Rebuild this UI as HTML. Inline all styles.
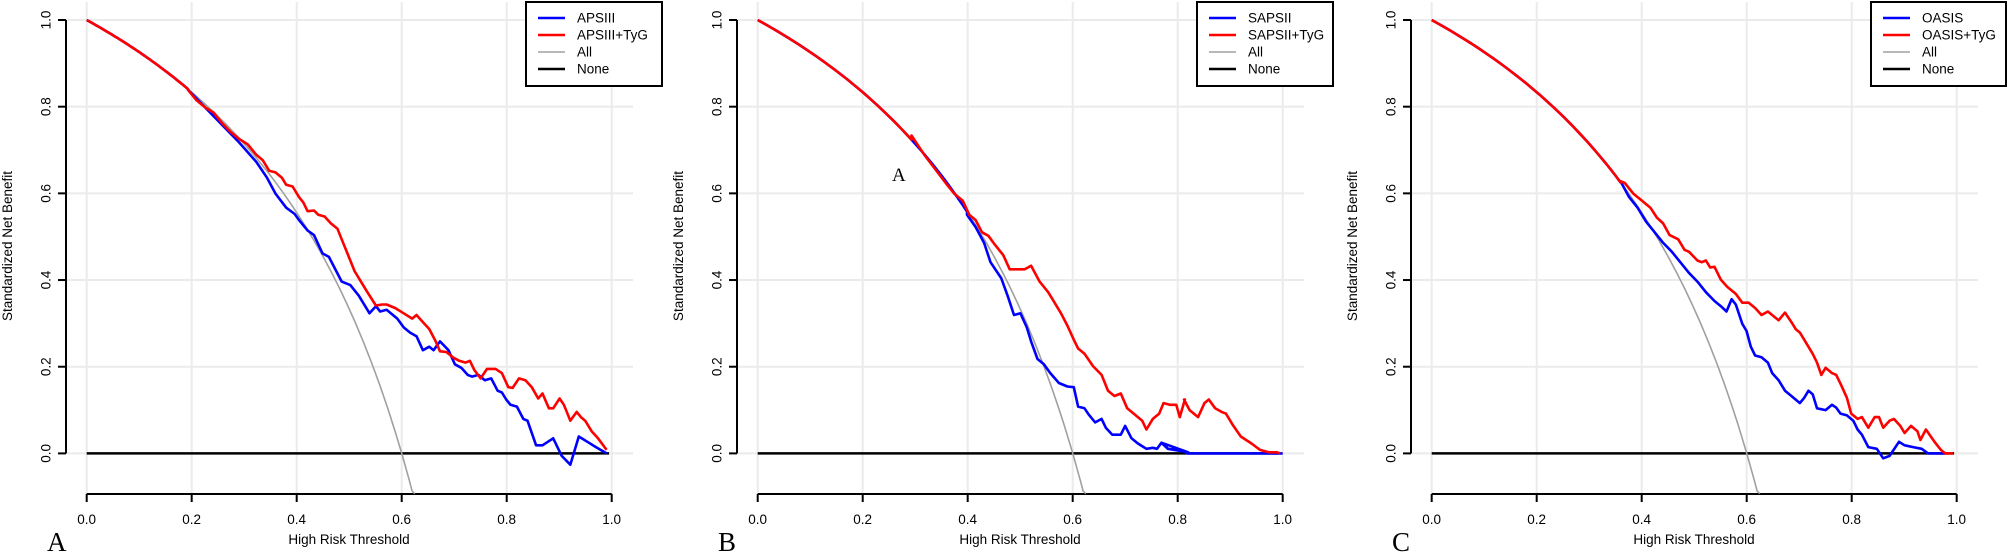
<!DOCTYPE html>
<html><head><meta charset="utf-8">
<style>
html,body{margin:0;padding:0;background:#fff;}
svg{display:block;}
text{font-family:"Liberation Sans",Arial,sans-serif;fill:#000;}
.s{font-family:"Liberation Serif",serif;}
</style></head>
<body>
<svg id="c" width="2009" height="552" xmlns="http://www.w3.org/2000/svg"></svg>
<script>
const NS="http://www.w3.org/2000/svg";
const svg=document.getElementById('c');
function el(n,a,t){const e=document.createElementNS(NS,n);for(const k in a)e.setAttribute(k,a[k]);if(t!==undefined)e.textContent=t;svg.appendChild(e);return e;}
const X0=86.7,XS=525,Y0=453.4,YS=433.4;
function all(t){return 1-(2/3)*t/(1-t);}
const panels=[
 {dx:0,z0:203,letter:'A',names:['APSIII','APSIII+TyG'],
  blue:[[[440,255],[560,405],[600,460],[625,505],[645,550],[670,590],[690,608],[700,625],[720,655],[735,668],[755,720],[770,730],[800,800],[820,810],[840,840],[860,880],[865,890],[880,870],[890,885],[905,880],[930,905],[945,930],[960,945],[975,955],[990,995],[1005,985],[1015,995],[1030,970],[1050,995],[1065,1035],[1080,1045],[1095,1065],[1105,1070],[1120,1065],[1135,1080],[1150,1075],[1165,1110],[1175,1115],[1185,1135],[1195,1150],[1210,1155],[1225,1190],[1235,1195],[1255,1265],[1270,1265],[1295,1245],[1315,1295],[1335,1320],[1355,1240],[1375,1255],[1395,1270],[1420,1288]],203],
  red:[[[440,255],[460,285],[480,305],[500,320],[520,350],[540,375],[560,395],[580,410],[600,440],[615,455],[630,485],[645,490],[660,505],[670,525],[685,530],[700,560],[710,575],[720,600],[735,598],[745,610],[760,615],[775,635],[790,650],[800,680],[810,710],[820,740],[830,770],[845,800],[860,830],[880,868],[895,865],[905,865],[925,875],[945,890],[965,905],[975,895],[990,915],[1005,935],[1020,970],[1030,998],[1045,1000],[1060,1015],[1075,1025],[1090,1030],[1100,1025],[1110,1050],[1125,1075],[1140,1048],[1160,1048],[1175,1060],[1190,1100],[1200,1102],[1215,1075],[1230,1080],[1245,1100],[1260,1132],[1270,1118],[1285,1160],[1295,1160],[1310,1132],[1320,1150],[1335,1195],[1350,1170],[1360,1185],[1370,1195],[1385,1225],[1400,1245],[1420,1278]],203]},
 {dx:671,z0:560,letter:'B',names:['SAPSII','SAPSII+TyG'],
  blue:[[[1050,610],[1070,645],[1090,690],[1105,745],[1130,790],[1145,840],[1160,895],[1175,890],[1190,930],[1200,970],[1215,1020],[1230,1035],[1245,1060],[1265,1088],[1285,1098],[1300,1100],[1310,1155],[1325,1160],[1335,1178],[1350,1200],[1365,1190],[1375,1215],[1390,1235],[1410,1235],[1420,1210],[1435,1245],[1450,1260],[1470,1275],[1485,1272],[1495,1275],[1505,1258],[1520,1275],[1545,1280],[1568,1285]],560,
        [[290,1258],[305,1275],[340,1280],[350,1288],[573,1288]]],
  red:[[[920,385],[950,440],[975,480],[1000,520],[1020,550],[1040,570],[1055,610],[1070,625],[1085,660],[1100,670],[1115,695],[1135,725],[1150,765],[1165,765],[1185,765],[1200,755],[1220,800],[1240,830],[1255,860],[1270,890],[1285,925],[1300,965],[1310,990],[1325,1005],[1345,1040],[1365,1065],[1380,1110],[1395,1125],[1410,1118],[1425,1160],[1445,1180],[1460,1195],[1470,1220],[1485,1190],[1500,1175],[1510,1145],[1525,1150],[1540,1150],[1548,1185],[1560,1135]],560,
       [[342,1135],[355,1165],[375,1185],[390,1145],[400,1135],[415,1160],[430,1170],[440,1175],[455,1205],[475,1240],[500,1260],[520,1278],[540,1285],[560,1285],[567,1288]]]},
 {dx:1345,z0:218,letter:'C',names:['OASIS','OASIS+TyG'],
  blue:[[[660,515],[680,560],[700,590],[720,630],[740,660],[760,690],[780,715],[800,745],[820,775],[840,800],[860,830],[880,855],[895,870],[908,885],[920,850],[930,865],[945,920],[955,940],[965,985],[975,1010],[990,1015],[1005,1030],[1015,1060],[1030,1080],[1045,1110],[1060,1125],[1080,1145],[1090,1130],[1100,1110],[1110,1120],[1120,1160],[1140,1165],[1155,1150],[1165,1158],[1175,1175],[1190,1180],[1205,1195],[1215,1220],[1225,1235],[1240,1270],[1260,1275],[1275,1302],[1290,1295],[1312,1255],[1325,1265],[1345,1270],[1365,1275],[1380,1288],[1420,1288]],218],
  red:[[[660,515],[670,520],[690,550],[710,570],[730,590],[745,618],[760,635],[775,668],[795,680],[810,710],[820,715],[840,740],[850,745],[860,740],[870,760],[880,758],[895,795],[910,815],[930,835],[945,860],[960,860],[975,875],[990,895],[1005,885],[1030,910],[1045,888],[1060,915],[1070,935],[1080,945],[1095,975],[1110,1005],[1120,1030],[1130,1065],[1140,1045],[1155,1060],[1165,1065],[1175,1090],[1190,1130],[1200,1175],[1215,1190],[1225,1185],[1240,1215],[1255,1185],[1265,1185],[1275,1215],[1290,1195],[1300,1190],[1315,1210],[1325,1230],[1340,1210],[1355,1225],[1362,1250],[1375,1220],[1395,1255],[1410,1278],[1420,1288],[1438,1288]],218]}
];
function px(dx,t){return dx+X0+t*XS;}
function py(v){return Y0-v*YS;}
function curvePts(dx,spec){
  const [pts,z0,extra]=spec;
  const out=[];
  const t1=(pts[0][0]-z0)/1229;
  for(let i=0;i<=40;i++){const t=t1*i/40;out.push([px(dx,t),py(all(t))]);}
  pts.forEach(p=>{out.push([px(dx,(p[0]-z0)/1229),py((1288-p[1])/1231)]);});
  if(extra)extra.forEach(p=>{const t=(p[0]-573)/1229+1;out.push([px(dx,t),py((1288-p[1])/1231)]);});
  return out.map(p=>p[0].toFixed(1)+','+p[1].toFixed(1)).join(' ');
}
panels.forEach(P=>{
  const d=P.dx;
  // grid
  for(let i=0;i<=5;i++){const y=py(i*0.2);el('line',{x1:d+66,x2:d+633,y1:y,y2:y,stroke:'#ebebeb','stroke-width':2});}
  for(let i=0;i<=5;i++){const x=px(d,i*0.2);el('line',{x1:x,x2:x,y1:2,y2:494,stroke:'#ebebeb','stroke-width':2});}
  // axes
  el('line',{x1:d+66,x2:d+66,y1:py(1),y2:py(0),stroke:'#000','stroke-width':2});
  for(let i=0;i<=5;i++){const y=py(i*0.2);el('line',{x1:d+58,x2:d+66,y1:y,y2:y,stroke:'#000','stroke-width':2});
    el('text',{x:d+46,y:y,'font-size':13.5,'text-anchor':'middle','dominant-baseline':'central',transform:`rotate(-90 ${d+46} ${y})`},(i*0.2).toFixed(1));}
  el('line',{x1:px(d,0),x2:px(d,1),y1:494,y2:494,stroke:'#000','stroke-width':2});
  for(let i=0;i<=5;i++){const x=px(d,i*0.2);el('line',{x1:x,x2:x,y1:494,y2:502,stroke:'#000','stroke-width':2});
    el('text',{x:x,y:524,'font-size':13.5,'text-anchor':'middle'},(i*0.2).toFixed(1));}
  el('text',{x:d+349,y:544,'font-size':13.5,'text-anchor':'middle'},'High Risk Threshold');
  el('text',{x:d+12,y:246,'font-size':13.5,'text-anchor':'middle',transform:`rotate(-90 ${d+12} 246)`},'Standardized Net Benefit');
  el('text',{x:d+47,y:551,'font-size':27,class:'s'},P.letter);
  // none
  el('line',{x1:px(d,0),x2:px(d,0.995),y1:py(0),y2:py(0),stroke:'#000','stroke-width':2.5});
  // all
  let ap=[];for(let i=0;i<=120;i++){const t=0.625*i/120;let v=all(t);if(v<-0.093)v=-0.093;ap.push(px(d,t).toFixed(1)+','+py(v).toFixed(1));}
  el('polyline',{points:ap.join(' '),fill:'none',stroke:'#a0a0a0','stroke-width':1.6});
  el('polyline',{points:curvePts(d,P.blue),fill:'none',stroke:'#0000ff','stroke-width':2.6,'stroke-linejoin':'round'});
  el('polyline',{points:curvePts(d,P.red),fill:'none',stroke:'#ff0000','stroke-width':2.6,'stroke-linejoin':'round'});
  // legend
  const lx=d+526;
  el('rect',{x:lx,y:2,width:d===1345?135:136,height:84,fill:'#fff',stroke:'#000','stroke-width':2});
  const cols=['#0000ff','#ff0000','#a0a0a0','#000'],labs=[P.names[0],P.names[1],'All','None'];
  for(let i=0;i<4;i++){const y=18+i*17;
    el('line',{x1:d+538,x2:d+565,y1:y,y2:y,stroke:cols[i],'stroke-width':i==2?1.6:2.5});
    el('text',{x:d+577,y:y,'font-size':13.5,'dominant-baseline':'central'},labs[i]);}
});
el('text',{x:892,y:181,'font-size':19,class:'s'},'A');
</script>
</body></html>
